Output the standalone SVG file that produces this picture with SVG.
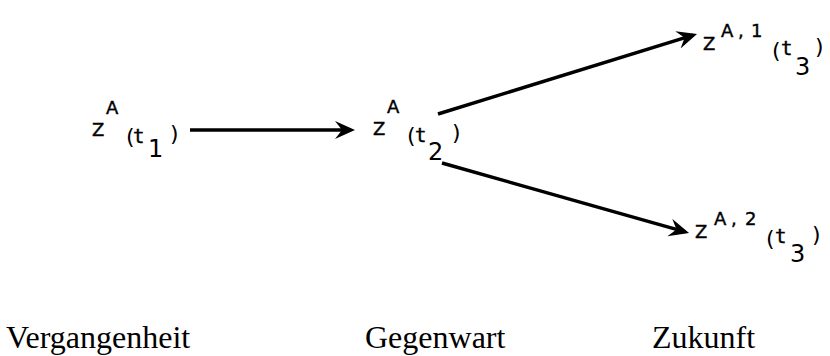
<svg xmlns="http://www.w3.org/2000/svg" width="830" height="356" viewBox="0 0 830 356">
<style>
.m{font-family:"DejaVu Sans","Liberation Sans",sans-serif;font-size:18px;fill:#000;stroke:#000;stroke-width:0.4}
.t{font-family:"DejaVu Sans Mono","Liberation Mono",monospace;font-size:19px;fill:#000;stroke:#000;stroke-width:0.4}
.p{font-family:"DejaVu Sans","Liberation Sans",sans-serif;font-size:22px;fill:#000}
.s{font-family:"DejaVu Sans","Liberation Sans",sans-serif;font-size:24px;fill:#000}
.lab{font-family:"Liberation Serif","Times New Roman",serif;font-size:32px;fill:#000}
.c{stroke:#000;stroke-width:3.5;fill:none;marker-end:url(#ah)}
</style>
<defs>
<marker id="ah" markerUnits="userSpaceOnUse" markerWidth="22" markerHeight="20" refX="16" refY="9" orient="auto">
<path d="M0,0 L20,9 L0,18 L7,9 z" fill="#000"/>
</marker>
</defs>
<g id="connectors">
<line class="c" x1="190" y1="130" x2="351" y2="130"/>
<line class="c" x1="438" y1="114" x2="693.2" y2="35.2"/>
<line class="c" x1="442" y1="163" x2="685.2" y2="231.9"/>
</g>
<g id="n1">
<text class="m" x="92" y="136">Z</text>
<text class="m" x="106" y="114">A</text>
<text class="p" x="126" y="144">(</text>
<text class="t" x="133" y="143">t</text>
<text class="s" x="148" y="157">1</text>
<text class="p" x="170" y="141">)</text>
</g>
<g id="n2">
<text class="m" x="373" y="135">Z</text>
<text class="m" x="387" y="113">A</text>
<text class="p" x="407" y="143">(</text>
<text class="t" x="415" y="142">t</text>
<text class="s" x="428" y="160">2</text>
<text class="p" x="452" y="140">)</text>
</g>
<g id="n3">
<text class="m" x="703" y="50">Z</text>
<text class="m" x="721" y="37">A</text>
<text class="m" x="738" y="37">,</text>
<text class="m" x="751" y="37">1</text>
<text class="p" x="772" y="58">(</text>
<text class="t" x="781" y="55">t</text>
<text class="s" x="795" y="75">3</text>
<text class="p" x="815" y="54">)</text>
</g>
<g id="n4">
<text class="m" x="695" y="238">Z</text>
<text class="m" x="714" y="225">A</text>
<text class="m" x="731" y="225">,</text>
<text class="m" x="745" y="225">2</text>
<text class="p" x="766" y="246">(</text>
<text class="t" x="775" y="243">t</text>
<text class="s" x="790" y="262">3</text>
<text class="p" x="812" y="242">)</text>
</g>
<g id="labels">
<text class="lab" x="6" y="348">Vergangenheit</text>
<text class="lab" x="365" y="348">Gegenwart</text>
<text class="lab" x="652" y="348">Zukunft</text>
</g>
</svg>
